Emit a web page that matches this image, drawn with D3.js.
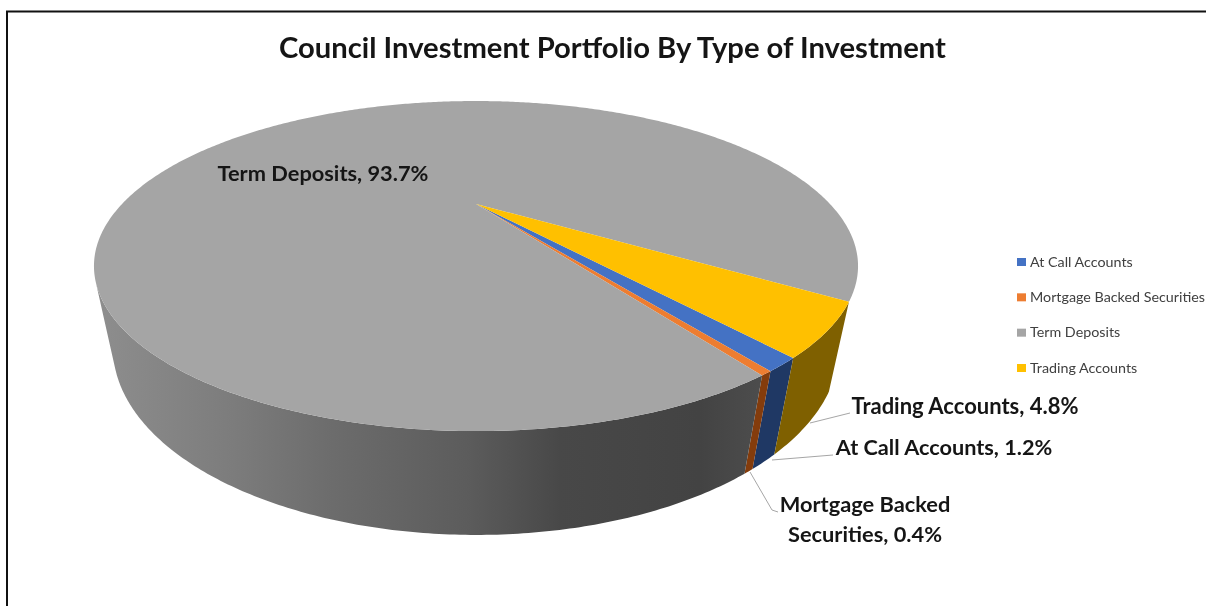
<!DOCTYPE html>
<html><head><meta charset="utf-8">
<script src="https://cdn.jsdelivr.net/npm/d3@7/dist/d3.min.js"></script>
<style>html,body{margin:0;padding:0;background:#fff}svg{display:block;filter:blur(0.5px)}text{font-family:Lato,"Open Sans",sans-serif}</style>
</head><body><svg id="c" width="1206" height="606"></svg>
<script>
const categories = ["At Call Accounts","Mortgage Backed Securities","Term Deposits","Trading Accounts"];
const values = [1.2,0.4,93.7,4.8];
const topColors = ["#4472c4","#ed7d31","#a5a5a5","#ffc000"];
const sideColors = ["#1f3864","#843c0c",null,"#7f6000"];
const chartTitle = "Council Investment Portfolio By Type of Investment";

const svg = d3.select("#c");
svg.append("rect").attr("x",7).attr("y",11.5).attr("width",1300).attr("height",700)
  .attr("fill","#fff").attr("stroke","#111").attr("stroke-width",2);

// perspective projection of the pie's unit circle
const P = {X0:476,Y0:204,A:354,B:141.7,C:79.7,k:-0.376,h:0.045};
function proj(a,z){
  const x=Math.sin(a), y=-Math.cos(a), w=1+P.k*y+P.h*z;
  return [P.X0+P.A*x/w, P.Y0+(P.B*y+P.C*z)/w];
}
const pie = d3.pie().sort(null).value(d=>d)
  .startAngle(140.5*Math.PI/180).endAngle((140.5+360)*Math.PI/180);
const arcs = pie(values);
const line = d3.line();
const steps = a => {
  const n = Math.max(4,Math.ceil((a.endAngle-a.startAngle)/0.01));
  return d3.range(0,n+1).map(i=>a.startAngle+(a.endAngle-a.startAngle)*i/n);
};
// the run of angles, from the slice's start, whose outer wall faces the viewer
const facing = t => {
  const area = (p,q) => d3.polygonArea([proj(p,0),proj(q,0),proj(q,1),proj(p,1)]);
  const s = Math.sign(area(t[0],t[1]));
  let n = 1;
  while (n < t.length-1 && Math.sign(area(t[n],t[n+1])) === s) n++;
  return t.slice(0,n+1);
};

const defs = svg.append("defs");
const g = defs.append("linearGradient").attr("id","wall").attr("gradientUnits","userSpaceOnUse")
  .attr("x1",94).attr("x2",770).attr("y1",0).attr("y2",0);
[[0,"#8e8e8e"],[0.206,"#7c7c7c"],[0.354,"#6c6c6c"],[0.552,"#5c5c5c"],[0.69,"#484848"],[0.896,"#434343"],[1,"#4e4e4e"]]
  .forEach(s=>g.append("stop").attr("offset",s[0]).attr("stop-color",s[1]));

// side walls
svg.append("g").selectAll("path").data(arcs).join("path")
  .attr("d",a=>{const t=facing(steps(a));return line(t.map(v=>proj(v,0)).concat(t.slice().reverse().map(v=>proj(v,1))))+"Z";})
  .attr("fill",(a,i)=>sideColors[i]||"url(#wall)");
// top face
svg.append("g").selectAll("path").data(arcs).join("path")
  .attr("d",a=>line([[P.X0,P.Y0]].concat(steps(a).map(v=>proj(v,0))))+"Z")
  .attr("fill",(a,i)=>topColors[i]);

// leader lines
const leaders = [[[810,423],[850,413]],[[772,460],[833,455]],[[750,472],[772,510],[778,512]]];
svg.append("g").selectAll("path").data(leaders).join("path")
  .attr("d",d=>line(d)).attr("fill","none").attr("stroke","#a6a6a6").attr("stroke-width",1);

svg.append("text").attr("x",612.5).attr("y",58).attr("text-anchor","middle")
  .attr("font-size",29.2).attr("font-weight",700).attr("fill","#151515").text(chartTitle);

const labelLines = [["Term Deposits, 93.7%"],["Trading Accounts, 4.8%"],["At Call Accounts, 1.2%"],["Mortgage Backed","Securities, 0.4%"]];
const labelPos = [[323,181,21.8],[965,414,22],[944,455,21.7],[865,512,21.8]];
labelLines.forEach((ls,i)=>ls.forEach((s,j)=>svg.append("text")
  .attr("x",labelPos[i][0]).attr("y",labelPos[i][1]+j*30).attr("text-anchor","middle")
  .attr("font-size",labelPos[i][2]).attr("font-weight",700).attr("fill","#151515").text(s)));

// legend
const legY = d3.scalePoint().domain(categories).range([262,368]);
const leg = svg.append("g").selectAll("g").data(categories).join("g")
  .attr("transform",d=>`translate(1017,${legY(d)})`);
leg.append("rect").attr("x",0).attr("y",-4).attr("width",9).attr("height",8).attr("fill",(d,i)=>topColors[i]);
leg.append("text").attr("x",13).attr("y",4.5).attr("font-size",14.3).attr("fill","#404040").text(d=>d);
</script></body></html>
